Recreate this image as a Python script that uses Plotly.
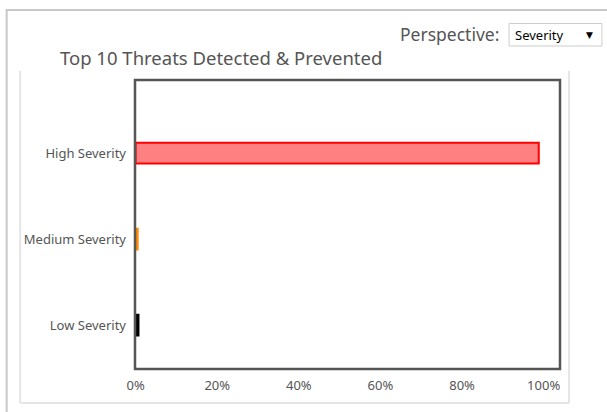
import plotly.graph_objects as go

# Data
categories = ["Low Severity", "Medium Severity", "High Severity"]
shares = [0.7, 0.5, 98.8]  # percent of detected & prevented threats
fill_colors = ["#000000", "#ff8c00", "#ff8080"]
edge_colors = ["#000000", "#ff8c00", "#ff0000"]
x_ticks = [0, 20, 40, 60, 80, 100]
x_tick_labels = ["0%", "20%", "40%", "60%", "80%", "100%"]

W, H = 607, 412
L, R, T, B = 134.5, 47, 80, 43
PW, PH = W - L - R, H - T - B


def px(x):
    return (x - L) / PW


def py(y):
    return (H - B - y) / PH


fig = go.Figure(
    go.Bar(
        x=shares,
        y=categories,
        orientation="h",
        width=0.24,
        marker=dict(color=fill_colors, line=dict(color=edge_colors, width=2)),
        hoverinfo="skip",
    )
)

text_grey = "#555555"
font = "Noto Sans, Tahoma, sans-serif"

shapes = [
    # outer panel border
    dict(type="line", x0=px(5), x1=px(610), y0=py(10), y1=py(10), line=dict(color="#c8c8c8", width=2)),
    dict(type="line", x0=px(6), x1=px(6), y0=py(10), y1=py(415), line=dict(color="#c8c8c8", width=2)),
    # inner panel border
    dict(type="line", x0=px(19.5), x1=px(19.5), y0=py(71), y1=py(403), line=dict(color="#dddddd", width=1.5)),
    dict(type="line", x0=px(569), x1=px(569), y0=py(71), y1=py(403), line=dict(color="#dddddd", width=1.5)),
    dict(type="line", x0=px(19.5), x1=px(569), y0=py(403), y1=py(403), line=dict(color="#dddddd", width=1.5)),
    # plot frame
    dict(type="rect", x0=0, x1=1, y0=0, y1=1, line=dict(color="#555555", width=2.5), layer="above"),
    # dropdown box
    dict(type="rect", x0=px(509), x1=px(602), y0=py(23.5), y1=py(46), line=dict(color="#cccccc", width=1),
         fillcolor="white"),
]

annotations = [
    dict(text="Top 10 Threats Detected & Prevented", x=px(57), y=py(58), xanchor="left", yanchor="middle",
         showarrow=False, font=dict(family=font, size=18.5, color=text_grey)),
    dict(text="Perspective:", x=px(501), y=py(34), xanchor="right", yanchor="middle",
         showarrow=False, font=dict(family=font, size=17.5, color=text_grey)),
    dict(text="Severity", x=px(513), y=py(35), xanchor="left", yanchor="middle",
         showarrow=False, font=dict(family=font, size=13, color="#000000")),
    dict(text="▼", x=px(590), y=py(35), xanchor="center", yanchor="middle",
         showarrow=False, font=dict(family="DejaVu Sans", size=9, color="#000000")),
]

for a in annotations:
    a.update(xref="paper", yref="paper")
for s in shapes:
    s.update(xref="paper", yref="paper")

fig.update_layout(
    width=W,
    height=H,
    margin=dict(l=L, r=R, t=T, b=B, pad=0),
    paper_bgcolor="white",
    plot_bgcolor="white",
    showlegend=False,
    shapes=shapes,
    annotations=annotations,
    xaxis=dict(
        range=[-0.15, 104],
        tickvals=x_ticks,
        ticktext=x_tick_labels,
        showgrid=False,
        zeroline=False,
        showline=False,
        ticks="",
        ticklabelstandoff=7,
        tickfont=dict(family=font, size=13, color=text_grey),
    ),
    yaxis=dict(
        categoryorder="array",
        categoryarray=categories,
        range=[-0.51, 2.85],
        showgrid=False,
        zeroline=False,
        showline=False,
        ticks="",
        ticklabelstandoff=8,
        tickfont=dict(family=font, size=13, color=text_grey),
    ),
)

fig.write_html("out.html")
